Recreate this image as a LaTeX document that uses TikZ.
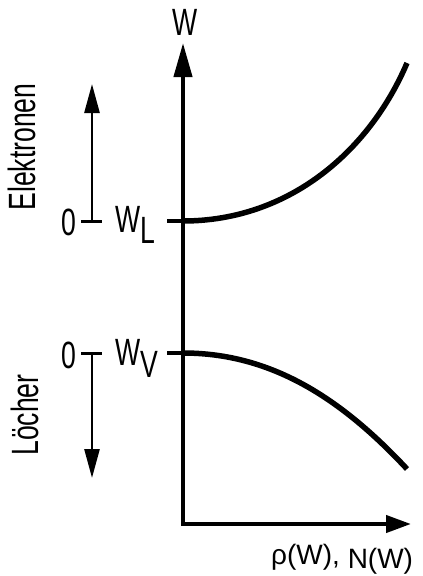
\documentclass[tikz,border=0pt]{standalone}
\usepackage{fontspec}
\setmainfont{Liberation Sans}
\newfontfamily\narrowf[FakeStretch=0.7]{Liberation Sans}
\newfontfamily\plainf{Liberation Sans}
\usetikzlibrary{arrows.meta}
\tikzset{
  axisline/.style={line width=4.2pt, line join=miter},
  smallarrow/.style={line width=2.6pt, -{Triangle[length=29pt,width=15pt]}},
  tick/.style={line width=3pt},
  curve/.style={line width=5.5pt, line cap=butt},
  lbl/.style={inner sep=0pt, font=\narrowf\fontsize{38}{42}\selectfont},
  axlbl/.style={inner sep=0pt, font=\plainf\fontsize{28}{32}\selectfont}
}
\begin{document}
\begin{tikzpicture}[x=1pt,y=-1pt]
\useasboundingbox (0,0) rectangle (423,576);
% axes
\coordinate (Wtop) at (183,43);
\coordinate (O) at (183,524);
\coordinate (Nend) at (411,524);
\coordinate (WL) at (183,221);
\coordinate (WV) at (183,353);
\draw[axisline, {Triangle[length=34pt,width=18pt]}-{Triangle[length=25pt,width=17pt]}] (Wtop) -- (O) -- (Nend);
% band edge ticks
\coordinate (WLt) at (167,221);
\coordinate (WVt) at (167,353);
\draw[line width=4pt] (WLt) -- (WL);
\draw[line width=4pt] (WVt) -- (WV);
% density curves
\coordinate (cL) at (407,63);
\coordinate (cV) at (407,469);
\draw[curve] (WL) .. controls (290,221) and (370,150) .. (cL);
\draw[curve] (WV) .. controls (270,353) and (340,397) .. (cV);
% energy direction arrows
\coordinate (eL) at (81,221);
\coordinate (eR) at (102,221);
\coordinate (eB) at (92,221);
\coordinate (eT) at (92,84);
\draw[tick] (eL) -- (eR);
\draw[smallarrow] (eB) -- (eT);
\coordinate (hL) at (81,353);
\coordinate (hR) at (102,353);
\coordinate (hT) at (92,353);
\coordinate (hB) at (92,478);
\draw[tick] (hL) -- (hR);
\draw[smallarrow] (hT) -- (hB);
% labels
\node[lbl, anchor=base] (W) at (185,35) {W};
\node[lbl, anchor=base] (z1) at (69,235) {0};
\node[lbl, anchor=base] (z2) at (69,368) {0};
\node[lbl, anchor=base west] (WLl) at (115,232) {W\raisebox{-11pt}{L}};
\node[lbl, anchor=base west] (WVl) at (115,365) {W\raisebox{-12pt}{V}};
\node[lbl, anchor=base, rotate=90] (el) at (35,147) {Elektronen};
\node[lbl, anchor=base, rotate=90] (lo) at (38,415) {Löcher};
\node[axlbl, anchor=base west] (ax) at (271,564) {ρ(W), \raisebox{-4pt}{N(W)}};
\end{tikzpicture}
\end{document}
